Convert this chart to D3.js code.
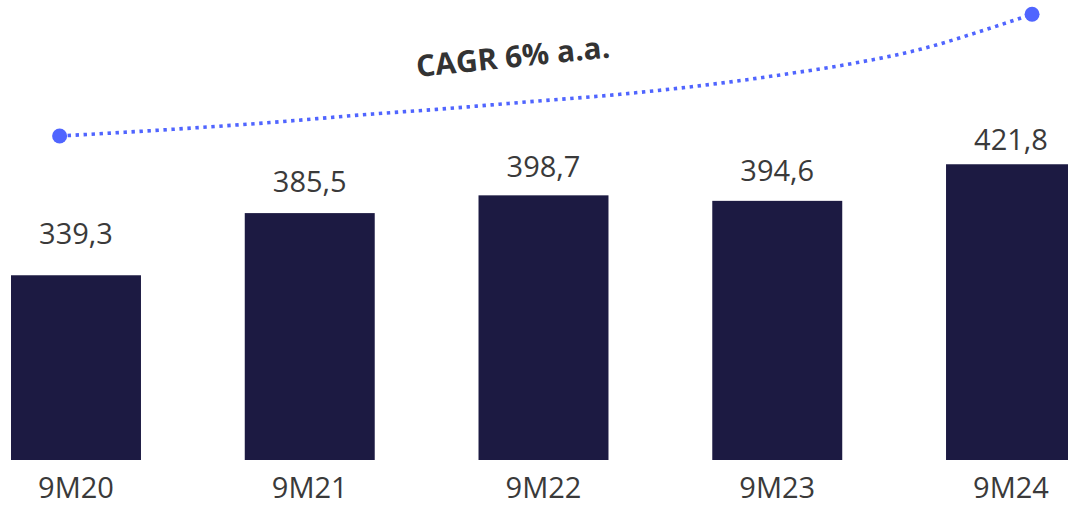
<!DOCTYPE html>
<html>
<head>
<meta charset="utf-8">
<script src="https://cdn.jsdelivr.net/npm/d3@7"></script>
<style>
  html, body { margin: 0; padding: 0; background: #ffffff; }
  svg { display: block; }
  text { font-family: "Open Sans", "Noto Sans", sans-serif; }
</style>
</head>
<body>
<div id="chart"></div>
<script>
// ---- data ----
const categories = ["9M20", "9M21", "9M22", "9M23", "9M24"];
const values = [339.3, 385.5, 398.7, 394.6, 421.8];
const valueLabels = ["339,3", "385,5", "398,7", "394,6", "421,8"];
const cagrLabel = "CAGR 6% a.a.";
// decorative CAGR curve: [category index, value]
const cagrIdx = [-0.070, 0.416, 0.844, 1.272, 1.543, 1.899, 2.327, 2.755, 3.040, 3.325, 3.611, 3.896, 4.090];
const cagrVal = [442.8, 447.8, 453.0, 459.2, 462.6, 467.7, 473.8, 482.0, 488.9, 496.8, 507.2, 522.1, 533.3];

// ---- layout ----
const W = 1068, H = 505;
const svg = d3.select("#chart").append("svg").attr("width", W).attr("height", H);

const x = d3.scaleBand().domain(categories).range([11, 1076]).paddingInner(0.444).paddingOuter(0);
const y = d3.scaleLinear().domain([202, 500]).range([460, 59.04]);
const yLabel = d3.scaleLinear().domain([202, 500]).range([400.7, 61.1]);
const xi = d3.scaleLinear().domain([0, 4]).range([x(categories[0]) + x.bandwidth() / 2, x(categories[4]) + x.bandwidth() / 2]);

const data = categories.map((c, i) => ({ c, v: values[i], l: valueLabels[i] }));

// bars
svg.append("g").selectAll("rect").data(data).join("rect")
  .attr("x", d => x(d.c))
  .attr("y", d => y(d.v))
  .attr("width", x.bandwidth())
  .attr("height", d => y(202) - y(d.v))
  .attr("fill", "#1c1a42");

// value labels
svg.append("g").selectAll("text").data(data).join("text")
  .attr("x", d => x(d.c) + x.bandwidth() / 2)
  .attr("y", d => yLabel(d.v))
  .attr("text-anchor", "middle")
  .attr("font-size", 29)
  .attr("fill", "#3a3a3a")
  .text(d => d.l);

// category axis labels
const xAxis = d3.axisBottom(x).tickSize(0).tickPadding(0);
const gx = svg.append("g").attr("transform", "translate(0,460)").call(xAxis);
gx.select(".domain").remove();
gx.selectAll("text")
  .attr("dy", null)
  .attr("y", 38)
  .attr("font-size", 29)
  .attr("font-family", "'Open Sans', 'Noto Sans', sans-serif")
  .attr("fill", "#3a3a3a");

// CAGR curve
const pts = cagrIdx.map((ix, i) => [xi(ix), y(cagrVal[i])]);
const line = d3.line().curve(d3.curveMonotoneX);
svg.append("path")
  .attr("d", line(pts))
  .attr("fill", "none")
  .attr("stroke", "#5065ff")
  .attr("stroke-width", 3.6)
  .attr("stroke-dasharray", "3.4,4.6");

svg.append("g").selectAll("circle").data([pts[0], pts[pts.length - 1]]).join("circle")
  .attr("cx", d => d[0]).attr("cy", d => d[1]).attr("r", 7.5)
  .attr("fill", "#5065ff");

// CAGR label
const lx = xi(1.874), ly = y(494);
svg.append("text")
  .attr("transform", `translate(${lx},${ly}) rotate(-5.8)`)
  .attr("text-anchor", "middle")
  .attr("font-size", 30)
  .attr("font-weight", 700)
  .attr("fill", "#333333")
  .text(cagrLabel);
</script>
</body>
</html>
